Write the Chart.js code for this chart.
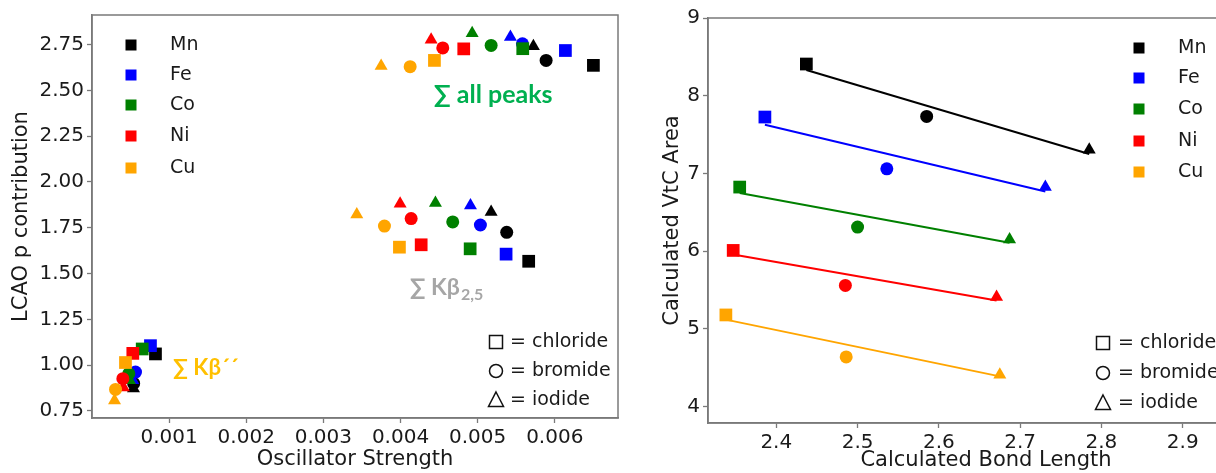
<!DOCTYPE html>
<html>
<head>
<meta charset="utf-8">
<script src="https://cdn.jsdelivr.net/npm/chart.js@4.4.0/dist/chart.umd.min.js"></script>
<style>
  html, body { margin: 0; padding: 0; background: #fff; overflow: hidden; width: 1216px; height: 473px; }
  #left { position: absolute; left: 0; top: 0; width: 630px; height: 473px; }
  #right { position: absolute; left: 618px; top: 0; width: 680px; height: 473px; }
</style>
</head>
<body>
<div id="left"><canvas id="leftChart"></canvas></div>
<div id="right"><canvas id="rightChart"></canvas></div>
<script>
// metals and halides, order of the inner arrays is [chloride, bromide, iodide]
const metals = ['Mn', 'Fe', 'Co', 'Ni', 'Cu'];
const metalColors = ['#000000', '#0000ff', '#008000', '#ff0000', '#ffa500'];
const halides = ['chloride', 'bromide', 'iodide'];
const halideStyles = ['rect', 'circle', 'triangle'];

// left panel: oscillator strength vs LCAO p contribution
const allPeaksOsc = [
  [0.006501, 0.005888, 0.005723],
  [0.006138, 0.005581, 0.005425],
  [0.005585, 0.005175, 0.004929],
  [0.004820, 0.004548, 0.004397],
  [0.004440, 0.004125, 0.003749]
];
const allPeaksLcao = [
  [2.637, 2.664, 2.741],
  [2.718, 2.755, 2.792],
  [2.728, 2.746, 2.813],
  [2.727, 2.732, 2.777],
  [2.664, 2.630, 2.633]
];
const kb25Osc = [
  [0.005662, 0.005377, 0.005175],
  [0.005369, 0.005036, 0.004907],
  [0.004903, 0.004677, 0.004453],
  [0.004268, 0.004138, 0.003995],
  [0.003986, 0.003792, 0.003433]
];
const kb25Lcao = [
  [1.567, 1.725, 1.836],
  [1.606, 1.765, 1.872],
  [1.635, 1.782, 1.885],
  [1.657, 1.800, 1.881],
  [1.644, 1.759, 1.822]
];
const kbppOsc = [
  [0.000823, 0.000540, 0.000538],
  [0.000758, 0.000564, 0.000529],
  [0.000651, 0.000477, 0.000486],
  [0.000529, 0.000400, 0.000408],
  [0.000434, 0.000305, 0.000292]
];
const kbppLcao = [
  [1.061, 0.900, 0.872],
  [1.106, 0.962, 0.917],
  [1.088, 0.953, 0.917],
  [1.064, 0.926, 0.878],
  [1.014, 0.867, 0.806]
];

// right panel: bond length vs VtC area, plus the fitted line ends
const bondLength = [
  [2.437, 2.585, 2.785],
  [2.386, 2.536, 2.731],
  [2.355, 2.500, 2.687],
  [2.347, 2.485, 2.671],
  [2.338, 2.486, 2.675]
];
const vtcArea = [
  [8.408, 7.734, 7.305],
  [7.726, 7.060, 6.825],
  [6.825, 6.310, 6.150],
  [6.010, 5.560, 5.410],
  [5.180, 4.640, 4.410]
];
const fitStart = [8.33, 7.627, 6.748, 5.958, 5.12];
const fitEnd = [7.25, 6.768, 6.108, 5.365, 4.39];

const leftXTicks = [0.001, 0.002, 0.003, 0.004, 0.005, 0.006];
const leftYTicks = [0.75, 1.00, 1.25, 1.50, 1.75, 2.00, 2.25, 2.50, 2.75];
const rightXTicks = [2.4, 2.5, 2.6, 2.7, 2.8, 2.9];
const rightYTicks = [4, 5, 6, 7, 8, 9];

const FONT = '"DejaVu Sans", sans-serif';
const NOTE_FONT = 'Lato, "DejaVu Sans", sans-serif';
const TEXT = '#1a1a1a';
const AXIS = '#7a7a7a';
const radiusFor = { rect: 9, circle: 6.5, triangle: 7.5 };

function markerDataset(i, pairs) {
  const pts = [], styles = [];
  pairs.forEach(([xs, ys]) => {
    for (let h = 0; h < halides.length; h++) {
      pts.push({ x: xs[i][h], y: ys[i][h] });
      styles.push(halideStyles[h]);
    }
  });
  return {
    label: metals[i],
    data: pts,
    pointStyle: styles,
    pointRadius: styles.map(s => radiusFor[s]),
    backgroundColor: metalColors[i],
    borderColor: metalColors[i],
    pointBorderWidth: 0,
    showLine: false,
    order: 5 - i
  };
}

function axis(min, max, tickVals, fmt, title, titlePad, fixed) {
  return {
    type: 'linear', min: min, max: max,
    afterBuildTicks: s => { s.ticks = tickVals.map(v => ({ value: v })); },
    afterFit: s => { if (s.isHorizontal()) s.height = fixed; else s.width = fixed; },
    ticks: { callback: v => fmt(v), font: { family: FONT, size: 20 }, color: TEXT, padding: 3, maxRotation: 0 },
    grid: { drawOnChartArea: false, drawTicks: true, tickLength: 5, color: AXIS, tickColor: AXIS, tickWidth: 1.3 },
    border: { display: true, color: AXIS, width: 1.5 },
    title: { display: true, text: title, font: { family: FONT, size: 21 }, color: TEXT, padding: titlePad }
  };
}

const overlay = {
  id: 'overlay',
  afterDraw(chart, args, o) {
    const ctx = chart.ctx, a = chart.chartArea;
    ctx.save();
    ctx.strokeStyle = AXIS;
    ctx.lineWidth = 1.5;
    ctx.strokeRect(a.left, a.top, a.right - a.left, a.bottom - a.top);

    ctx.font = '19px ' + FONT;
    ctx.textBaseline = 'middle';
    ctx.textAlign = 'left';
    metals.forEach((m, i) => {
      const y = a.top + o.metal.dy[i];
      ctx.fillStyle = metalColors[i];
      ctx.fillRect(a.left + o.metal.dx - 5.5, y - 5.5, 11, 11);
      ctx.fillStyle = TEXT;
      ctx.fillText(m, a.left + o.metal.textDx, y);
    });

    ctx.strokeStyle = '#111';
    ctx.lineWidth = 1.5;
    halides.forEach((h, i) => {
      const cx = a.left + o.halide.dx, cy = a.top + o.halide.dy[i];
      ctx.beginPath();
      if (i === 0) ctx.rect(cx - 6.5, cy - 6.5, 13, 13);
      else if (i === 1) ctx.arc(cx, cy, 6.5, 0, Math.PI * 2);
      else { ctx.moveTo(cx, cy - 8); ctx.lineTo(cx + 7.5, cy + 6.5); ctx.lineTo(cx - 7.5, cy + 6.5); ctx.closePath(); }
      ctx.stroke();
      ctx.fillStyle = TEXT;
      ctx.fillText('= ' + h, a.left + o.halide.textDx, cy);
    });

    (o.notes || []).forEach(n => {
      const x = chart.scales.x.getPixelForValue(n.x);
      const y = chart.scales.y.getPixelForValue(n.y);
      ctx.fillStyle = n.color;
      ctx.font = 'bold ' + n.size + 'px ' + NOTE_FONT;
      ctx.fillText(n.text, x, y);
      if (n.sub) {
        const w = ctx.measureText(n.text).width;
        ctx.font = 'bold 16px ' + NOTE_FONT;
        ctx.fillText(n.sub, x + w + 1, y + 7);
      }
    });
    ctx.restore();
  }
};

const leftDatasets = metals.map((m, i) =>
  markerDataset(i, [[allPeaksOsc, allPeaksLcao], [kb25Osc, kb25Lcao], [kbppOsc, kbppLcao]]));

new Chart(document.getElementById('leftChart'), {
  type: 'scatter',
  data: { datasets: leftDatasets },
  options: {
    responsive: true, maintainAspectRatio: false, animation: false, devicePixelRatio: 1, events: [],
    layout: { padding: { left: 0, top: 10, right: 12, bottom: 0 } },
    scales: {
      x: axis(0, 0.00682, leftXTicks, v => v.toFixed(3), 'Oscillator Strength', { top: 0, bottom: 1 }, 55),
      y: axis(0.711, 2.912, leftYTicks, v => v.toFixed(2), 'LCAO p contribution', { top: 9, bottom: 0 }, 92)
    },
    plugins: {
      legend: { display: false }, tooltip: { enabled: false },
      overlay: {
        metal: { dx: 39, textDx: 78, dy: [30, 60, 90, 121, 153] },
        halide: { dx: 404, textDx: 418, dy: [327, 356, 385] },
        notes: [
          { text: '\u2211 all peaks', x: 0.00443, y: 2.475, color: '#00b050', size: 25 },
          { text: '\u2211 K\u03b2', sub: '2,5', x: 0.00412, y: 1.421, color: '#a6a6a6', size: 23 },
          { text: '\u2211 K\u03b2\u00b4\u00b4', x: 0.00105, y: 0.982, color: '#ffc000', size: 22 }
        ]
      }
    }
  },
  plugins: [overlay]
});

const rightDatasets = metals.map((m, i) => ({
  label: m + ' fit',
  data: [{ x: bondLength[i][0], y: fitStart[i] }, { x: bondLength[i][2], y: fitEnd[i] }],
  showLine: true, borderColor: metalColors[i], borderWidth: 2, pointRadius: 0, order: 10
})).concat(metals.map((m, i) => markerDataset(i, [[bondLength, vtcArea]])));

new Chart(document.getElementById('rightChart'), {
  type: 'scatter',
  data: { datasets: rightDatasets },
  options: {
    responsive: true, maintainAspectRatio: false, animation: false, devicePixelRatio: 1, events: [],
    layout: { padding: { left: 0, top: 18, right: 34, bottom: 0 } },
    scales: {
      x: axis(2.316, 3.0, rightXTicks, v => v.toFixed(1), 'Calculated Bond Length', { top: 0, bottom: 0 }, 50),
      y: axis(3.79, 9, rightYTicks, v => v.toFixed(0), 'Calculated VtC Area', { top: 42, bottom: 0 }, 90)
    },
    plugins: {
      legend: { display: false }, tooltip: { enabled: false },
      overlay: {
        metal: { dx: 431, textDx: 470, dy: [30, 60, 91, 123, 154] },
        halide: { dx: 395, textDx: 410, dy: [325, 355, 385] }
      }
    }
  },
  plugins: [overlay]
});
</script>
</body>
</html>
